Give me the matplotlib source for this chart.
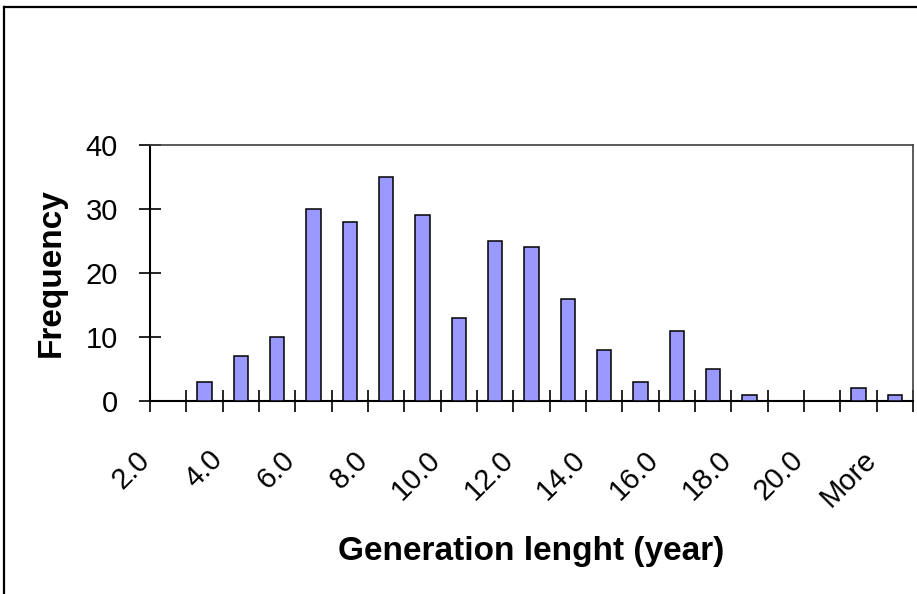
import numpy as np
import matplotlib
matplotlib.use('Agg')
import matplotlib.pyplot as plt
from matplotlib.lines import Line2D
import matplotlib.transforms as mtransforms

plt.rcParams['font.family'] = ['Liberation Sans', 'DejaVu Sans']

# Histogram bins (Excel style) and counts
bins = ['2.0', '3.0', '4.0', '5.0', '6.0', '7.0', '8.0', '9.0', '10.0', '11.0',
        '12.0', '13.0', '14.0', '15.0', '16.0', '17.0', '18.0', '19.0', '20.0',
        '21.0', 'More']
counts = [0, 3, 7, 10, 30, 28, 35, 29, 13, 25, 24, 16, 8, 3, 11, 5, 1, 0, 0, 2, 1]
yticks = [0, 10, 20, 30, 40]

fig = plt.figure(figsize=(9.17, 5.94), dpi=100)
ax = fig.add_axes([150/917, 1 - 401/594, 763/917, 256/594])

x = np.arange(len(bins))
ax.bar(x, counts, width=0.4, color='#9999FF', edgecolor='black', linewidth=1.1, zorder=3)

ax.set_xlim(-0.5, len(bins) - 0.5)
ax.set_ylim(0, 40)

# tick marks between categories, labels on every other category
ax.set_xticks(np.arange(len(bins) + 1) - 0.5)
ax.set_xticklabels([])
ax.set_xticks(x[::2], minor=True)
ax.set_xticklabels(bins[::2], minor=True, rotation=45, ha='right', va='top', fontsize=21)
ax.tick_params(axis='x', which='major', direction='inout', length=16, width=1.2, color='black')
ax.tick_params(axis='x', which='minor', length=0, pad=32)
offset = mtransforms.ScaledTranslation(-13/100, 0, fig.dpi_scale_trans)
for lbl in ax.get_xticklabels(minor=True):
    lbl.set_transform(lbl.get_transform() + offset)

ax.set_yticks(yticks)
ax.set_yticklabels([str(v) for v in yticks], fontsize=21)
ax.tick_params(axis='y', direction='inout', length=16, width=1.2, pad=15, color='black')

for side in ['left', 'bottom']:
    ax.spines[side].set_color('black')
    ax.spines[side].set_linewidth(1.5)
for side in ['top', 'right']:
    ax.spines[side].set_color('#404040')
    ax.spines[side].set_linewidth(1.2)

ax.set_ylabel('Frequency', fontsize=24, fontweight='bold')
ax.yaxis.set_label_coords(-0.109, 0.5)
ax.set_xlabel('Generation lenght (year)', fontsize=24, fontweight='bold')
ax.xaxis.set_label_coords(0.5, -0.527)

# outer chart border (top and left only visible in the crop)
fig.add_artist(Line2D([3.5/917, 1], [1 - 7/594, 1 - 7/594], color='black', linewidth=1.6))
fig.add_artist(Line2D([3.5/917, 3.5/917], [0, 1 - 7/594], color='black', linewidth=1.6))

fig.savefig('out.png', dpi=100)
